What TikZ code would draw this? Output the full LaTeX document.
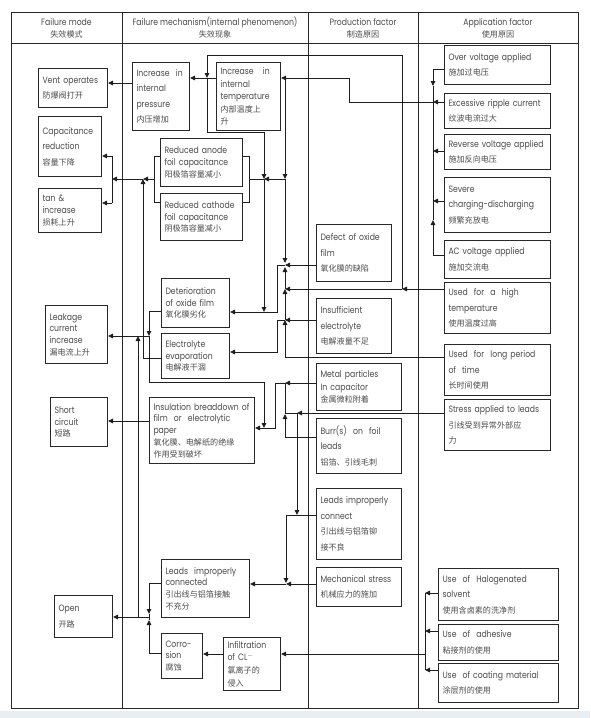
\documentclass[tikz,border=0pt]{standalone}
\usepackage{fontspec}
\setmainfont{Poppins}[FakeStretch=0.84]
\newfontfamily\cjk{Noto Sans CJK SC}[Scale=0.88]
\usetikzlibrary{arrows.meta}

\definecolor{boxline}{RGB}{40,40,40}
\definecolor{wireline}{RGB}{30,30,30}
\definecolor{txt}{RGB}{75,75,75}
\definecolor{band}{RGB}{232,238,242}

\newcommand{\zh}[1]{{\cjk #1}}
\hyphenpenalty=10000
\exhyphenpenalty=10000

\tikzset{
  grid/.style={draw=boxline, line width=0.9pt},
  box/.style={draw=boxline, line width=1pt, anchor=north west, align=left,
    inner xsep=4pt, inner ysep=1pt, text=txt, font=\fontsize{9.2}{11.7}\selectfont},
  loose/.style={font=\fontsize{9.2}{15.5}\selectfont},
  mid/.style={font=\fontsize{9.2}{12.6}\selectfont},
  wh/.style 2 args={text width=#1, minimum height=#2},
  head/.style={align=center, text=txt, font=\fontsize{9.2}{12}\selectfont},
  wire/.style={draw=wireline, line width=0.9pt},
  arr/.style={wire, -{Triangle[length=5pt,width=4.5pt]}},
}

\begin{document}
\begin{tikzpicture}[x=1pt,y=-1pt]
\useasboundingbox (0,0) rectangle (590,718);
\fill[band] (0,711) rectangle (590,718);

% table
\draw[grid] (11,12) rectangle (578,708);
\draw[grid] (11,43) -- (578,43);
\foreach \cx in {122,308,418}
  \draw[grid] (\cx,12) -- (\cx,708);

% headings
\node[head] (hmode) at (66.5,28) {Failure mode\\\zh{失效模式}};
\node[head] (hmech) at (215,28) {Failure mechanism(internal phenomenon)\\\zh{失效现象}};
\node[head] (hprod) at (363,28) {Production factor\\\zh{制造原因}};
\node[head] (happ) at (498,28) {Application factor\\\zh{使用原因}};

% failure modes
\node[box, loose, wh={61}{39}] (vent) at (38,68) {Vent~operates\\\zh{防爆阀打开}};
\node[box, loose, wh={55}{60}] (capred) at (38,116) {Capacitance\\reduction\\\zh{容量下降}};
\node[box, wh={55}{44}] (tand) at (38,188) {tan~\&\\increase\\\zh{损耗上升}};
\node[box, wh={54}{58}] (leak) at (45,305) {Leakage\\current\\increase\\\zh{漏电流上升}};
\node[box, wh={49}{49}] (short) at (50,397) {Short\\circuit\\\zh{短路}};
\node[box, loose, wh={50}{42}] (open) at (54,595) {Open\\\zh{开路}};

% failure mechanisms
\node[box, loose, wh={49}{68}] (pres) at (132,62) {Increase~~in\\internal\\pressure\\\zh{内压增加}};
\node[box, mid, wh={56}{68}] (temp) at (216,62) {Increase~~~in\\internal\\temperature\\\zh{内部温度上}\\\zh{升}};
\node[box, wh={74}{48}] (anode) at (160,138) {Reduced~anode\\foil~capacitance\\\zh{阳极箔容量减小}};
\node[box, wh={74}{47}] (cathode) at (160,193) {Reduced~cathode\\foil~capacitance\\\zh{阴极箔容量减小}};
\node[box, wh={60}{49}] (deter) at (161,278) {Deterioration\\of~oxide~film\\\zh{氧化膜劣化}};
\node[box, wh={60}{45}] (evap) at (161,333) {Electrolyte\\evaporation\\\zh{电解液干涸}};
\node[box, wh={97}{66}] (insul) at (149,397) {Insulation~breaddown~of\\film~~or~~electrolytic\\paper\\\zh{氧化膜、电解纸的绝缘}\\\zh{作用受到破坏}};
\node[box, wh={80}{58}] (leadsm) at (161,559) {Leads~~improperly\\connected\\\zh{引出线与铝箔接触}\\\zh{不充分}};
\node[box, wh={33}{45}] (corr) at (161,633) {Corro-\\sion\\\zh{腐蚀}};
\node[box, mid, wh={49}{53}] (cl) at (223,637) {Infiltration\\of~CL$^{-}$\\\zh{氯离子的}\\\zh{侵入}};

% production factors
\node[box, loose, wh={67}{57}] (defect) at (316,224) {Defect~of~oxide\\film\\\zh{氧化膜的缺陷}};
\node[box, loose, wh={67}{55}] (insuff) at (316,298) {Insufficient\\electrolyte\\\zh{电解液量不足}};
\node[box, mid, wh={77}{47}] (metal) at (316,363) {Metal~particles\\In~capacitor\\\zh{金属微粒附着}};
\node[box, loose, wh={77}{55}] (burr) at (316,418) {Burr(s)~~on~~foil\\leads\\\zh{铝箔、引线毛刺}};
\node[box, loose, wh={77}{71}] (leadsp) at (316,488) {Leads~improperly\\connect\\\zh{引出线与铝箔铆}\\\zh{接不良}};
\node[box, loose, wh={77}{39}] (mech) at (316,567) {Mechanical~stress\\\zh{机械应力的施加}};

% application factors
\node[box, loose, wh={98}{39}] (over) at (444,45) {Over~voltage~applied\\\zh{施加过电压}};
\node[box, loose, wh={98}{35}] (ripple) at (444,93) {Excessive~ripple~current\\\zh{纹波电流过大}};
\node[box, loose, wh={98}{35}] (rev) at (444,134) {Reverse~voltage~applied\\\zh{施加反向电压}};
\node[box, loose, wh={98}{55}] (severe) at (444,177) {Severe\\charging-discharging\\\zh{频繁充放电}};
\node[box, loose, wh={98}{38}] (ac) at (444,240) {AC~voltage~applied\\\zh{施加交流电}};
\node[box, loose, wh={98}{51}] (hight) at (444,282) {Used~~for~~a~~high\\temperature\\\zh{使用温度过高}};
\node[box, loose, wh={98}{51}] (longp) at (444,344) {Used~~for~~long~period\\of~~time\\\zh{长时间使用}};
\node[box, loose, wh={98}{51}] (stress) at (444,399) {Stress~applied~to~leads\\\zh{引线受到异常外部应}\\\zh{力}};
\node[box, loose, wh={112}{52}] (halo) at (438,568) {Use~~of~~Halogenated\\solvent\\\zh{使用含卤素的洗净剂}};
\node[box, loose, wh={112}{36}] (adh) at (438,624) {Use~~of~~adhesive\\\zh{粘接剂的使用}};
\node[box, loose, wh={112}{39}] (coat) at (438,663) {Use~~of~coating~material\\\zh{涂层剂的使用}};

% pressure, temperature
\draw[arr] (pres.west |- 0,83) -- (vent.east |- 0,83);
\draw[arr] (temp.west |- 0,78) -- (pres.east |- 0,78);
\draw[arr] (hight.west |- 0,289) -- (402,289);
\draw[arr] (402,289) -- (285,289);
\draw[arr] (402,289) |- (207,55) -- (207,78);
\draw[arr] (207,78) |- (264,132) -- (264,179);
\draw[arr] (264,179) -- (264,312);

% voltage bus
\draw[arr] (over.west |- 0,69) -| (433,86);
\draw[wire] (433,86) -- (433,102);
\draw[arr] (ac.west |- 0,255) -| (433,220);
\draw[wire] (433,220) -- (433,102);
\draw[arr] (ripple.west |- 0,102) -- (433,102);
\draw[arr] (rev.west |- 0,151) -- (433,151);
\draw[arr] (severe.west |- 0,201) -- (433,201);
\draw[arr] (433,102) -- (349,102) |- (temp.east |- 0,78);

% temperature bus
\draw[arr] (285,78) -- (285,179);
\draw[arr] (285,179) -- (285,263);
\draw[arr] (285,179) -- (264,179);
\draw[wire] (264,179) -- (249,179);
\draw[arr] (longp.west |- 0,357) -| (285,320);
\draw[arr] (285,320) -- (285,289);
\draw[arr] (285,289) -- (285,267);

% foil capacitance
\draw[wire] (anode.east |- 0,156) -| (249,202) -- (cathode.east |- 0,202);
\draw[wire] (anode.west |- 0,156) -| (154,202) -- (cathode.west |- 0,202);
\draw[arr] (154,179) -- (143,179);
\draw[arr] (143,179) -- (112,179);
\draw[wire] (112,156) -- (112,203);
\draw[arr] (112,156) -- (capred.east |- 0,156);
\draw[arr] (112,203) -- (tand.east |- 0,203);

% oxide film, electrolyte
\draw[arr] (defect.west |- 0,265) -- (285,265);
\draw[arr] (285,265) -| (277,312) -- (deter.east |- 0,312);
\draw[arr] (insuff.west |- 0,320) -- (285,320);
\draw[arr] (285,320) -| (277,352) -- (evap.east |- 0,352);
\draw[arr] (deter.west |- 0,311) -| (149,336);
\draw[arr] (149,336) -- (leak.east |- 0,336);
\draw[wire] (149,336) |- (264,382);
\draw[arr] (264,382) -- (264,428);
\draw[wire] (evap.west |- 0,358) -| (143,336);
\draw[arr] (143,336) -- (143,179);
\draw[arr] (138,617) -- (138,336);

% insulation
\draw[arr] (metal.west |- 0,383) -- (285,383);
\draw[arr] (285,383) -| (275,428) -- (insul.east |- 0,428);
\draw[arr] (burr.west |- 0,437) -| (285,414);
\draw[wire] (285,414) -- (285,383);
\draw[arr] (insul.west |- 0,421) -- (short.east |- 0,421);

% leads
\draw[arr] (stress.west |- 0,413) -- (297,413);
\draw[wire] (297,413) -- (285,413);
\draw[arr] (297,413) -- (297,515);
\draw[arr] (leadsp.west |- 0,515) -| (286,583);
\draw[arr] (mech.west |- 0,584) -- (286,584);
\draw[arr] (286,584) -- (leadsm.east |- 0,584);

% open
\draw[arr] (leadsm.west |- 0,583) -| (149,614);
\draw[arr] (corr.west |- 0,653) -| (149,620);
\draw[wire] (149,614) -- (149,620);
\draw[arr] (149,617) -- (open.east |- 0,617);
\draw[arr] (cl.west |- 0,654) -- (corr.east |- 0,654);

% solvents
\draw[wire] (425,593) -- (425,670);
\draw[arr] (halo.west |- 0,593) -- (425,593);
\draw[arr] (adh.west |- 0,631) -- (425,631);
\draw[arr] (coat.west |- 0,670) -- (425,670);
\draw[arr] (425,654) -- (cl.east |- 0,654);
\end{tikzpicture}
\end{document}
